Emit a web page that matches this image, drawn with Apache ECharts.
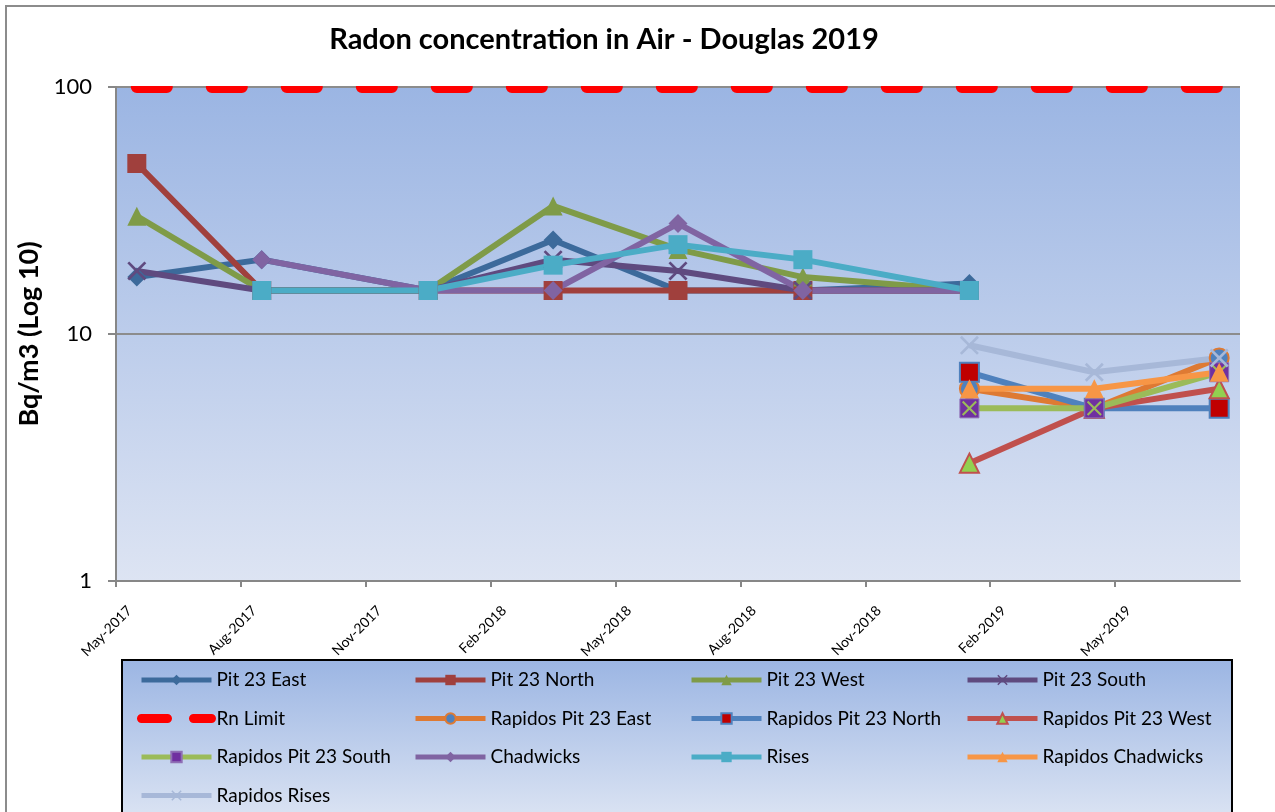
<!DOCTYPE html>
<html>
<head>
<meta charset="utf-8">
<title>Radon concentration in Air - Douglas 2019</title>
<script src="https://cdn.jsdelivr.net/npm/echarts@6/dist/echarts.min.js"></script>
<style>
  html, body { margin: 0; padding: 0; background: #fff; }
  #chart { width: 1275px; height: 812px; }
</style>
</head>
<body>
<div id="chart"></div>
<script>
  // sampling months (points sit mid-month, like the Excel date axis)
  let sampleMonths = ['2017-05', '2017-08', '2017-12', '2018-03', '2018-06', '2018-09', '2019-01', '2019-04', '2019-07']
  // x tick labels, every 3 months from May-2017
  let tickLabels = ['May-2017', 'Aug-2017', 'Nov-2017', 'Feb-2018', 'May-2018', 'Aug-2018', 'Nov-2018', 'Feb-2019', 'May-2019']
  let yTicks = [1, 10, 100]

  // Bq/m3
  let pit23East = [17, 20, 15, 24, 15, 15, 16, null, null]
  let pit23North = [49, 15, 15, 15, 15, 15, 15, null, null]
  let pit23West = [30, 15, 15, 33, 22, 17, 15, null, null]
  let pit23South = [18, 15, 15, 20, 18, 15, 15, null, null]
  let rnLimit = [100, 100, 100, 100, 100, 100, 100, 100, 100]
  let rapidosPit23East = [null, null, null, null, null, null, 6, 5, 8]
  let rapidosPit23North = [null, null, null, null, null, null, 7, 5, 5]
  let rapidosPit23West = [null, null, null, null, null, null, 3, 5, 6]
  let rapidosPit23South = [null, null, null, null, null, null, 5, 5, 7]
  let chadwicks = [null, 20, 15, 15, 28, 15, 15, null, null]
  let rises = [null, 15, 15, 19, 23, 20, 15, null, null]
  let rapidosChadwicks = [null, null, null, null, null, null, 6, 6, 7]
  let rapidosRises = [null, null, null, null, null, null, 9, 7, 8]

  let font = 'Lato, "Open Sans", sans-serif'
  let xMark = 'path://M0,1L1,0L5,4L9,0L10,1L6,5L10,9L9,10L5,6L1,10L0,9L4,5Z'

  // months since May-2017, +0.5 for the middle of the month
  function monthPos(s) {
    let p = s.split('-')
    return (Number(p[0]) - 2017) * 12 + (Number(p[1]) - 5) + 0.5
  }

  function pairs(values) {
    return values.map((v, i) => [monthPos(sampleMonths[i]), v])
  }

  function line(name, values, color, symbol, itemStyle, extra) {
    return Object.assign({
      name: name,
      type: 'line',
      data: pairs(values),
      symbol: symbol,
      symbolSize: 19,
      lineStyle: { color: color, width: 6 },
      itemStyle: Object.assign({ color: color }, itemStyle || {}),
      emphasis: { disabled: true },
      animation: false
    }, extra || {})
  }

  let series = [
    line('Pit 23 East', pit23East, '#3C6A9B', 'diamond'),
    line('Pit 23 North', pit23North, '#A0403D', 'rect'),
    line('Pit 23 West', pit23West, '#7F9B48', 'triangle'),
    line('Pit 23 South', pit23South, '#5F4A7F', xMark),
    line('Rn Limit', rnLimit, '#FF0000', 'none', null, {
      lineStyle: { color: '#FF0000', width: 12, type: [30, 45], cap: 'round' }
    }),
    line('Rapidos Pit 23 East', rapidosPit23East, '#DE7A33', 'circle', { color: '#4F81BD', borderColor: '#DE7A33', borderWidth: 2 }),
    line('Rapidos Pit 23 North', rapidosPit23North, '#4F81BD', 'rect', { color: '#C00000', borderColor: '#4F81BD', borderWidth: 2 }),
    line('Rapidos Pit 23 West', rapidosPit23West, '#C0504D', 'triangle', { color: '#92D050', borderColor: '#C0504D', borderWidth: 2 }),
    line('Rapidos Pit 23 South', rapidosPit23South, '#9BBB59', 'rect', { color: '#7030A0', borderColor: '#8F6FB5', borderWidth: 1 }),
    // green cross drawn on the purple squares (not in legend)
    line('Rapidos Pit 23 South x', rapidosPit23South, '#9BBB59', xMark, null, {
      symbolSize: 15, lineStyle: { width: 0 }
    }),
    line('Chadwicks', chadwicks, '#8064A2', 'diamond'),
    line('Rises', rises, '#4BACC6', 'rect'),
    line('Rapidos Chadwicks', rapidosChadwicks, '#F79646', 'triangle'),
    line('Rapidos Rises', rapidosRises, '#A7B8D8', xMark)
  ]

  // legend is laid out in 4 columns
  let legendCols = [
    ['Pit 23 East', 'Rn Limit', 'Rapidos Pit 23 South', 'Rapidos Rises'],
    ['Pit 23 North', 'Rapidos Pit 23 East', 'Chadwicks'],
    ['Pit 23 West', 'Rapidos Pit 23 North', 'Rises'],
    ['Pit 23 South', 'Rapidos Pit 23 West', 'Rapidos Chadwicks']
  ]
  let legendLeft = [137, 413, 689, 965]

  let legends = legendCols.map((names, i) => ({
    orient: 'vertical',
    left: legendLeft[i],
    top: 670,
    padding: 0,
    itemWidth: 70,
    itemHeight: 13,
    itemGap: 18.5,
    selectedMode: false,
    lineStyle: { width: 5 },
    textStyle: { fontFamily: font, fontSize: 19, color: '#000', lineHeight: 20 },
    data: names.map(n => n === 'Rn Limit'
      ? {
          name: n,
          lineStyle: { width: 9, type: [26, 26], cap: 'round' },
          itemStyle: { color: 'rgba(0,0,0,0)', borderWidth: 0 }
        }
      : n)
  }))

  let bgGrad = new echarts.graphic.LinearGradient(0, 0, 0, 1, [
    { offset: 0, color: '#9BB5E3' },
    { offset: 1, color: '#DDE4F3' }
  ])
  let legendGrad = new echarts.graphic.LinearGradient(0, 0, 0, 1, [
    { offset: 0, color: '#9BB5E3' },
    { offset: 1, color: '#E0E7F4' }
  ])

  let chart = echarts.init(document.getElementById('chart'))
  let option = {
    backgroundColor: '#fff',
    title: {
      text: 'Radon concentration in Air - Douglas 2019',
      left: 599,
      top: 20,
      textAlign: 'center',
      textStyle: { fontFamily: font, fontSize: 29, fontWeight: 'bold', color: '#000' }
    },
    grid: {
      left: 116,
      right: 35,
      top: 87,
      bottom: 231,
      show: true,
      backgroundColor: bgGrad,
      borderWidth: 0
    },
    xAxis: {
      type: 'value',
      min: 0,
      max: 27,
      interval: 3,
      axisLine: { lineStyle: { color: '#878787', width: 2 } },
      axisTick: { show: true, length: 6, lineStyle: { color: '#878787', width: 2 } },
      splitLine: { show: false },
      axisLabel: {
        rotate: 45,
        margin: 14,
        verticalAlign: 'top',
        padding: [12, 0, 0, 0],
        fontFamily: font,
        fontSize: 14,
        color: '#000',
        showMaxLabel: false,
        formatter: v => tickLabels[Math.round(v / 3)] || ''
      }
    },
    yAxis: {
      type: 'log',
      logBase: 10,
      min: yTicks[0],
      max: yTicks[yTicks.length - 1],
      name: 'Bq/m3 (Log 10)',
      nameLocation: 'middle',
      nameGap: 72,
      nameTextStyle: { fontFamily: font, fontSize: 27, fontWeight: 'bold', color: '#000' },
      axisLine: { show: true, lineStyle: { color: '#878787', width: 2 } },
      axisTick: { show: true, length: 8, lineStyle: { color: '#878787', width: 2 } },
      splitLine: { show: true, lineStyle: { color: '#8C8C8C', width: 2 } },
      minorTick: { show: false },
      axisLabel: { margin: 24, fontFamily: font, fontSize: 22, color: '#000' }
    },
    legend: legends,
    graphic: [
      // outer chart border
      {
        type: 'rect', z: -10, silent: true,
        shape: { x: 6, y: 6, width: 1400, height: 1000 },
        style: { fill: '#fff', stroke: '#8C8C8C', lineWidth: 2 }
      },
      // legend box
      {
        type: 'rect', z: 0, silent: true,
        shape: { x: 122, y: 660, width: 1110, height: 170 },
        style: { fill: legendGrad, stroke: '#000', lineWidth: 2 }
      },
      // hide the upper half of the limit line above the plot area
      {
        type: 'rect', z: 20, silent: true,
        shape: { x: 117, y: 70, width: 1124, height: 16 },
        style: { fill: '#fff' }
      }
    ],
    series: series
  }
  chart.setOption(option)
  window.onresize = chart.resize
</script>
</body>
</html>
